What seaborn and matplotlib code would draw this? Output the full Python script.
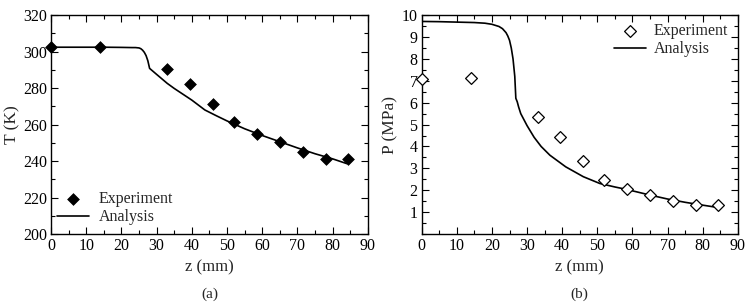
import numpy as np
import matplotlib
matplotlib.use("Agg")
import matplotlib.pyplot as plt
from matplotlib.ticker import MultipleLocator
import seaborn as sns
import pandas as pd

# experiment points (z in mm)
exp_z = [0, 14, 33, 39.5, 46, 52, 58.5, 65, 71.5, 78, 84.3]
exp_T = [302.6, 302.6, 290.5, 282.4, 271.5, 261.2, 255.0, 250.2, 245.2, 241.2, 241.2]
exp_P = [7.07, 7.11, 5.36, 4.41, 3.33, 2.48, 2.07, 1.79, 1.52, 1.34, 1.34]

# analysis curve, temperature
ana_zT = [0, 5, 10, 15, 20, 23, 24, 25, 25.5, 26, 26.5, 27, 27.5, 27.8, 28,
          30, 33, 35, 40, 43.7, 47, 50, 55, 60, 65, 70, 75, 80, 84]
ana_T = [302.4, 302.4, 302.4, 302.4, 302.3, 302.2, 302.2, 302.0, 301.6, 300.8,
         299.6, 297.8, 295.0, 292.5, 290.8, 287.5, 282.6, 279.8, 273.4, 268.0,
         264.8, 262.0, 257.7, 254.0, 250.6, 247.2, 244.0, 241.2, 238.6]

# analysis curve, pressure
ana_zP = [0, 5, 10, 15, 18, 20, 22, 23, 24, 24.5, 25, 25.5, 26, 26.5, 26.8,
          27.2, 27.6, 28.2, 30, 32, 34, 36.5, 41, 46, 50.7, 55, 58.3, 65, 70,
          75, 80, 84]
ana_P = [9.71, 9.70, 9.68, 9.66, 9.63, 9.58, 9.48, 9.38, 9.2, 9.05, 8.85, 8.5,
         8.0, 7.2, 6.2, 6.04, 5.8, 5.5, 4.95, 4.42, 4.0, 3.6, 3.07, 2.62, 2.31,
         2.15, 2.04, 1.78, 1.6, 1.45, 1.32, 1.22]

sns.set_theme(style="ticks")
plt.rcParams["font.family"] = ["Liberation Serif", "DejaVu Serif"]

fig = plt.figure(figsize=(7.51, 3.02), dpi=100)
ax1 = fig.add_axes([0.0679, 0.225, 0.422, 0.725])
ax2 = fig.add_axes([0.5615, 0.225, 0.421, 0.725])

exp_df = pd.DataFrame({"z": exp_z, "T": exp_T, "P": exp_P})
T_df = pd.DataFrame({"z": ana_zT, "T": ana_T})
P_df = pd.DataFrame({"z": ana_zP, "P": ana_P})

sns.lineplot(data=T_df, x="z", y="T", ax=ax1, color="black", lw=1.2,
             label="Analysis", sort=False)
sns.scatterplot(data=exp_df, x="z", y="T", ax=ax1, marker="D", s=36,
                color="black", edgecolor="black", linewidth=0.5,
                label="Experiment", zorder=3, clip_on=False)

sns.lineplot(data=P_df, x="z", y="P", ax=ax2, color="black", lw=1.2,
             label="Analysis", sort=False)
sns.scatterplot(data=exp_df, x="z", y="P", ax=ax2, marker="D", s=36,
                facecolor="white", edgecolor="black", linewidth=0.9,
                label="Experiment", zorder=3, clip_on=False)

fs = 11.5
for ax in (ax1, ax2):
    ax.set_xlim(0, 90)
    ax.xaxis.set_major_locator(MultipleLocator(10))
    ax.xaxis.set_minor_locator(MultipleLocator(5))
    ax.tick_params(which="both", direction="in", top=True, right=True,
                   labelsize=fs, width=0.8, colors="black")
    ax.tick_params(which="major", length=5, pad=3)
    ax.tick_params(which="minor", length=3)
    for s in ax.spines.values():
        s.set_linewidth(1.0)
        s.set_color("black")
    ax.set_xlabel("z (mm)", fontsize=12, labelpad=4)

ax1.set_ylim(200, 320)
ax1.yaxis.set_major_locator(MultipleLocator(20))
ax1.yaxis.set_minor_locator(MultipleLocator(10))
ax1.set_ylabel("T (K)", fontsize=12.5, labelpad=2)

ax2.set_ylim(0, 10)
ax2.yaxis.set_major_locator(MultipleLocator(1))
ax2.yaxis.set_minor_locator(MultipleLocator(0.5))
ax2.set_yticks(range(1, 11))
ax2.set_ylabel("P (MPa)", fontsize=12.5, labelpad=2)

h, l = ax1.get_legend_handles_labels()
ax1.legend(h[::-1], l[::-1], loc="lower left", bbox_to_anchor=(0.02, 0.04),
           frameon=False, fontsize=fs, handlelength=2.0, handletextpad=0.6,
           labelspacing=0.15, borderpad=0, borderaxespad=0)
h, l = ax2.get_legend_handles_labels()
ax2.legend(h[::-1], l[::-1], loc="upper right", bbox_to_anchor=(0.97, 0.965),
           frameon=False, fontsize=fs, handlelength=2.0, handletextpad=0.5,
           labelspacing=0.15, borderpad=0, borderaxespad=0)

fig.text(0.2789, 0.015, "(a)", ha="center", fontsize=11)
fig.text(0.772, 0.015, "(b)", ha="center", fontsize=11)

fig.savefig("out.png", dpi=100)
